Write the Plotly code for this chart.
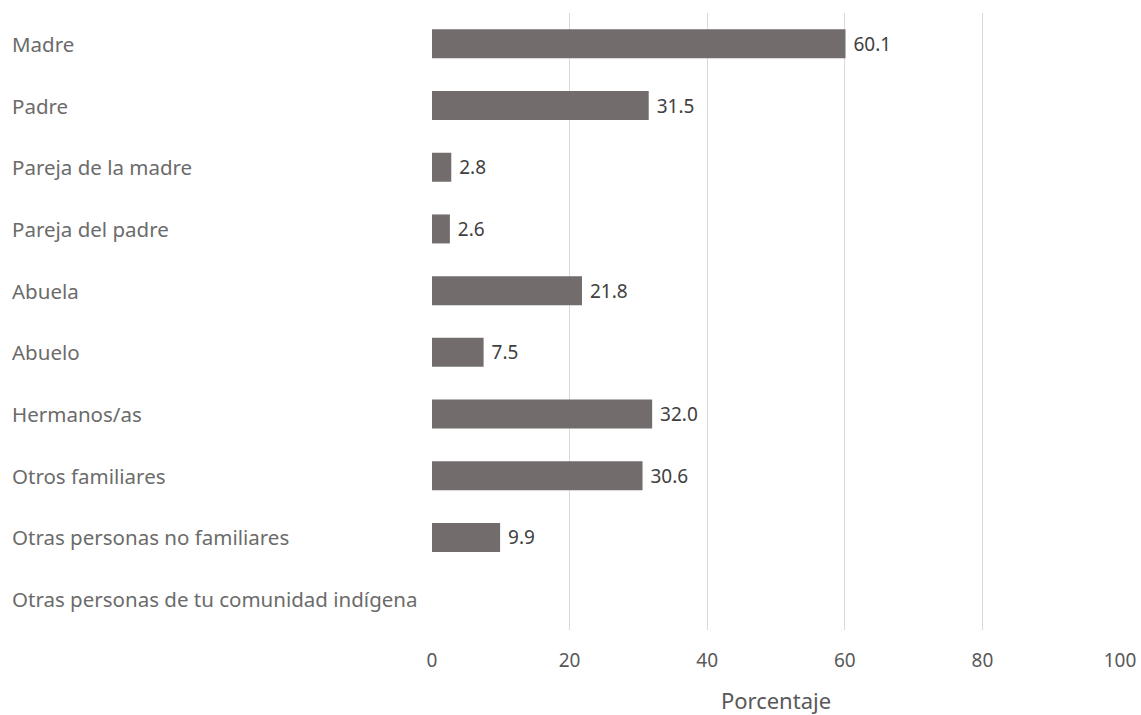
import plotly.graph_objects as go

categories = ["Madre", "Padre", "Pareja de la madre", "Pareja del padre", "Abuela",
              "Abuelo", "Hermanos/as", "Otros familiares", "Otras personas no familiares",
              "Otras personas de tu comunidad indígena"]
values = [60.1, 31.5, 2.8, 2.6, 21.8, 7.5, 32.0, 30.6, 9.9, None]
tick_vals = [0, 20, 40, 60, 80, 100]
axis_title = "Porcentaje"

FONT = "Noto Sans"
W, H = 1141, 715
L, R, T, B = 432, 21, 13, 85

texts = ["\u00a0" + f"{v:.1f}" if v is not None else "" for v in values]

fig = go.Figure(go.Bar(
    x=values, y=categories, orientation="h",
    marker=dict(color="#726D6C", line=dict(width=0)),
    text=texts, textposition="outside", cliponaxis=False,
    textfont=dict(family=FONT, size=19, color="#404040"),
    width=0.47,
))

annotations = []
for c in categories:
    annotations.append(dict(
        x=(10 - L) / (W - L - R), xref="paper", y=c, yref="y",
        text=c, showarrow=False, xanchor="left", yanchor="middle",
        font=dict(family=FONT, size=20.5, color="#6b6b6b"),
    ))
fig.update_layout(
    width=W, height=H, margin=dict(l=L, r=R, t=T, b=B, autoexpand=False),
    paper_bgcolor="white", plot_bgcolor="white",
    showlegend=False, annotations=annotations,
    xaxis=dict(range=[0, 100], tickvals=tick_vals, showgrid=True, automargin=False,
               gridcolor="#d9d9d9", gridwidth=1, zeroline=False, showline=False,
               ticks="", ticklabelstandoff=17,
               tickfont=dict(family=FONT, size=19, color="#595959"),
               title=dict(text=axis_title, standoff=32,
                          font=dict(family=FONT, size=22, color="#595959"))),
    yaxis=dict(autorange="reversed", showticklabels=False, showgrid=False, automargin=False,
               zeroline=False, showline=False, ticks=""),
)
fig.write_html("out.html")
